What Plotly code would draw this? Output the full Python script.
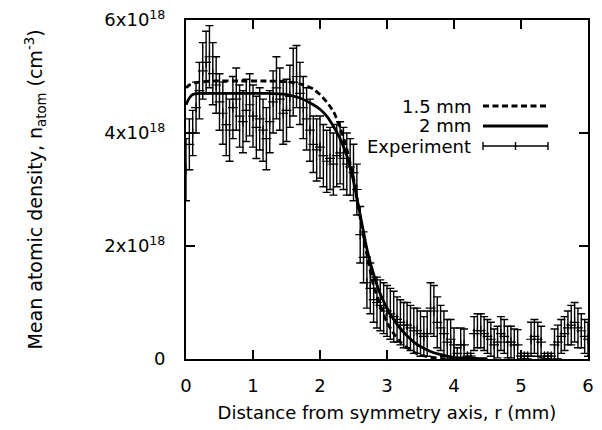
import plotly.graph_objects as go

# ---------------- data ----------------
# Experimental points: r (mm), density (units of 1e18 cm^-3), error (1e18)
exp_r = [0.00, 0.05, 0.10, 0.15, 0.20, 0.25, 0.30, 0.35, 0.40, 0.45,
         0.50, 0.55, 0.60, 0.65, 0.70, 0.75, 0.80, 0.85, 0.90, 0.95,
         1.00, 1.05, 1.10, 1.15, 1.20, 1.25, 1.30, 1.35, 1.40, 1.45,
         1.50, 1.55, 1.60, 1.65, 1.70, 1.75, 1.80, 1.85, 1.90, 1.95,
         2.00, 2.05, 2.10, 2.15, 2.20, 2.25, 2.30, 2.35, 2.40, 2.45,
         2.50, 2.55, 2.60, 2.65, 2.70, 2.75, 2.80, 2.85, 2.90, 2.95,
         3.00, 3.05, 3.10, 3.15, 3.20, 3.25, 3.30, 3.35, 3.40, 3.45,
         3.50, 3.55, 3.60, 3.65, 3.70, 3.75, 3.80, 3.85, 3.90, 3.95,
         4.00, 4.05, 4.10, 4.15, 4.20, 4.25, 4.30, 4.35, 4.40, 4.45,
         4.50, 4.55, 4.60, 4.65, 4.70, 4.75, 4.80, 4.85, 4.90, 4.95,
         5.00, 5.05, 5.10, 5.15, 5.20, 5.25, 5.30, 5.35, 5.40, 5.45,
         5.50, 5.55, 5.60, 5.65, 5.70, 5.75, 5.80, 5.85, 5.90, 5.95, 6.00]
exp_n = [3.35, 3.80, 4.00, 4.45, 4.75, 5.10, 5.25, 5.35, 5.05, 4.85,
         4.55, 4.35, 4.15, 4.05, 4.45, 4.60, 4.30, 4.20, 4.40, 4.50,
         4.30, 4.10, 4.25, 4.05, 3.90, 4.20, 4.55, 4.80, 4.60, 4.35,
         4.40, 4.65, 4.90, 5.00, 4.70, 4.45, 4.25, 4.05, 3.80, 3.70,
         3.75, 3.60, 3.50, 3.55, 3.45, 3.60, 3.65, 3.55, 3.45, 3.40,
         3.30, 3.00, 2.20, 1.80, 1.35, 1.25, 1.05, 1.00, 0.95, 0.90,
         0.85, 0.80, 0.75, 0.70, 0.65, 0.60, 0.60, 0.55, 0.50, 0.50,
         0.45, 0.40, 0.45, 0.90, 0.85, 0.65, 0.55, 0.45, 0.30, 0.35,
         0.25, 0.10, 0.25, 0.25, 0.05, 0.05, 0.45, 0.50, 0.50, 0.45,
         0.40, 0.35, 0.25, 0.30, 0.45, 0.40, 0.30, 0.30, 0.25, 0.25,
         0.05, 0.05, 0.05, 0.35, 0.40, 0.35, 0.30, 0.05, 0.05, 0.05,
         0.25, 0.30, 0.40, 0.45, 0.55, 0.60, 0.65, 0.55, 0.50, 0.40, 0.35]
exp_err = [0.55, 0.45, 0.40, 0.45, 0.50, 0.50, 0.55, 0.55, 0.55, 0.50,
           0.50, 0.55, 0.55, 0.55, 0.55, 0.55, 0.55, 0.55, 0.55, 0.55,
           0.55, 0.55, 0.55, 0.55, 0.55, 0.55, 0.55, 0.55, 0.55, 0.55,
           0.55, 0.55, 0.60, 0.55, 0.55, 0.55, 0.55, 0.55, 0.50, 0.55,
           0.55, 0.55, 0.55, 0.55, 0.55, 0.55, 0.55, 0.55, 0.55, 0.50,
           0.50, 0.45, 0.50, 0.45, 0.45, 0.45, 0.40, 0.45, 0.45, 0.45,
           0.45, 0.45, 0.45, 0.40, 0.40, 0.40, 0.40, 0.40, 0.40, 0.40,
           0.40, 0.35, 0.40, 0.45, 0.45, 0.45, 0.40, 0.40, 0.40, 0.35,
           0.30, 0.10, 0.30, 0.28, 0.05, 0.05, 0.30, 0.30, 0.30, 0.30,
           0.30, 0.30, 0.28, 0.28, 0.30, 0.30, 0.28, 0.28, 0.28, 0.27,
           0.05, 0.05, 0.05, 0.30, 0.30, 0.30, 0.28, 0.05, 0.05, 0.05,
           0.28, 0.30, 0.30, 0.30, 0.30, 0.35, 0.35, 0.35, 0.30, 0.30, 0.30]

# Model curves (units of 1e18 cm^-3)
sim15_r = [0.0, 0.05, 0.1, 0.2, 0.4, 0.8, 1.2, 1.5, 1.7, 1.9, 2.0, 2.1, 2.2,
           2.3, 2.4, 2.5, 2.6, 2.7, 2.8, 2.9, 3.0, 3.1, 3.2, 3.3, 3.4, 3.5,
           3.6, 3.8, 4.0]
sim15_n = [4.80, 4.85, 4.88, 4.90, 4.92, 4.92, 4.92, 4.91, 4.87, 4.78, 4.68,
           4.55, 4.38, 4.10, 3.72, 3.20, 2.50, 1.85, 1.30, 0.95, 0.65, 0.45,
           0.30, 0.20, 0.12, 0.07, 0.04, 0.01, 0.0]

sim2_r = [0.0, 0.05, 0.1, 0.2, 0.4, 0.8, 1.2, 1.5, 1.7, 1.9, 2.0, 2.1, 2.2,
          2.3, 2.4, 2.5, 2.6, 2.7, 2.8, 2.9, 3.0, 3.1, 3.2, 3.3, 3.4, 3.5,
          3.6, 3.7, 3.8, 3.9, 4.0, 4.2, 4.5]
sim2_n = [4.50, 4.62, 4.68, 4.70, 4.70, 4.70, 4.70, 4.68, 4.62, 4.50, 4.42,
          4.30, 4.12, 3.90, 3.60, 3.15, 2.55, 1.95, 1.50, 1.15, 0.90, 0.70,
          0.54, 0.41, 0.30, 0.22, 0.16, 0.11, 0.08, 0.05, 0.03, 0.015, 0.005]

x_ticks = [0, 1, 2, 3, 4, 5, 6]
y_ticks = [0, 2e18, 4e18, 6e18]
y_ticktext = ["0", "2x10<sup>18</sup>", "4x10<sup>18</sup>", "6x10<sup>18</sup>"]

legend_labels = ["1.5 mm", "2 mm", "Experiment"]

SCALE = 1e18

# ---------------- figure ----------------
W, H = 602, 430
ML, MR, MT, MB = 186, 14, 20, 71
PW, PH = W - ML - MR, H - MT - MB


def pxx(p):
    return (p - ML) / PW


def pxy(p):
    return (H - MB - p) / PH


FONT = "DejaVu Sans"

fig = go.Figure()

fig.add_trace(go.Scatter(
    x=exp_r, y=[v * SCALE for v in exp_n], mode="markers",
    marker=dict(symbol="cross-thin", size=7, color="black",
                line=dict(width=1.2, color="black")),
    error_y=dict(type="data", array=[e * SCALE for e in exp_err],
                 color="black", thickness=1.4, width=4),
    showlegend=False, cliponaxis=True,
))
fig.add_trace(go.Scatter(
    x=sim2_r, y=[v * SCALE for v in sim2_n], mode="lines",
    line=dict(color="black", width=2.8, shape="spline", smoothing=0.6),
    showlegend=False,
))
fig.add_trace(go.Scatter(
    x=sim15_r, y=[v * SCALE for v in sim15_n], mode="lines",
    line=dict(color="black", width=2.8, dash="6px,3.5px", shape="spline",
              smoothing=0.6),
    showlegend=False,
))

# manual legend (gnuplot style: text right-aligned, sample on right)
rows_y = [106, 126, 146]
text_x = 473
s0, s1 = 483, 548
annotations = []
shapes = []
for lab, ry in zip(legend_labels, rows_y):
    annotations.append(dict(
        x=pxx(text_x), y=pxy(ry), xref="paper", yref="paper", text=lab,
        showarrow=False, xanchor="right", yanchor="middle",
        font=dict(family=FONT, size=18, color="black")))
# dashed sample
shapes.append(dict(type="line", xref="paper", yref="paper",
                   x0=pxx(s0), x1=pxx(s1), y0=pxy(rows_y[0]), y1=pxy(rows_y[0]),
                   line=dict(color="black", width=2.8, dash="6px,3.5px")))
# solid sample
shapes.append(dict(type="line", xref="paper", yref="paper",
                   x0=pxx(s0), x1=pxx(s1), y0=pxy(rows_y[1]), y1=pxy(rows_y[1]),
                   line=dict(color="black", width=2.8)))
# errorbar sample
ey = rows_y[2]
shapes.append(dict(type="line", xref="paper", yref="paper",
                   x0=pxx(s0), x1=pxx(s1), y0=pxy(ey), y1=pxy(ey),
                   line=dict(color="black", width=1.4)))
for sx in (s0, (s0 + s1) / 2, s1):
    shapes.append(dict(type="line", xref="paper", yref="paper",
                       x0=pxx(sx), x1=pxx(sx), y0=pxy(ey - 4), y1=pxy(ey + 4),
                       line=dict(color="black", width=1.4)))

fig.update_layout(
    width=W, height=H,
    margin=dict(l=ML, r=MR, t=MT, b=MB, autoexpand=False),
    paper_bgcolor="white", plot_bgcolor="white",
    font=dict(family=FONT, size=18, color="black"),
    showlegend=False,
    annotations=annotations,
    shapes=shapes,
    xaxis=dict(
        range=[0, 6], tickvals=x_ticks, ticktext=[str(t) for t in x_ticks],
        ticks="inside", ticklen=9, tickwidth=2, tickcolor="black",
        showline=True, linewidth=2, linecolor="black", mirror="allticks",
        showgrid=False, zeroline=False, automargin=False,
        ticklabelstandoff=9,
        tickfont=dict(family=FONT, size=18, color="black"),
        title=dict(text="Distance from symmetry axis, r (mm)",
                   font=dict(family=FONT, size=18, color="black"), standoff=12),
    ),
    yaxis=dict(
        range=[0, 6e18], tickvals=y_ticks, ticktext=y_ticktext,
        ticks="inside", ticklen=9, tickwidth=2, tickcolor="black",
        showline=True, linewidth=2, linecolor="black", mirror="allticks",
        showgrid=False, zeroline=False, automargin=False,
        ticklabelstandoff=15,
        tickfont=dict(family=FONT, size=18, color="black"),
        title=dict(text="Mean atomic density, n<sub>atom</sub> (cm<sup>-3</sup>)",
                   font=dict(family=FONT, size=19, color="black"), standoff=57),
    ),
)

fig.write_html("out.html",
               config={"displayModeBar": False},
               post_script="document.body.style.margin='0px';"
                           "document.body.style.padding='0px';")
